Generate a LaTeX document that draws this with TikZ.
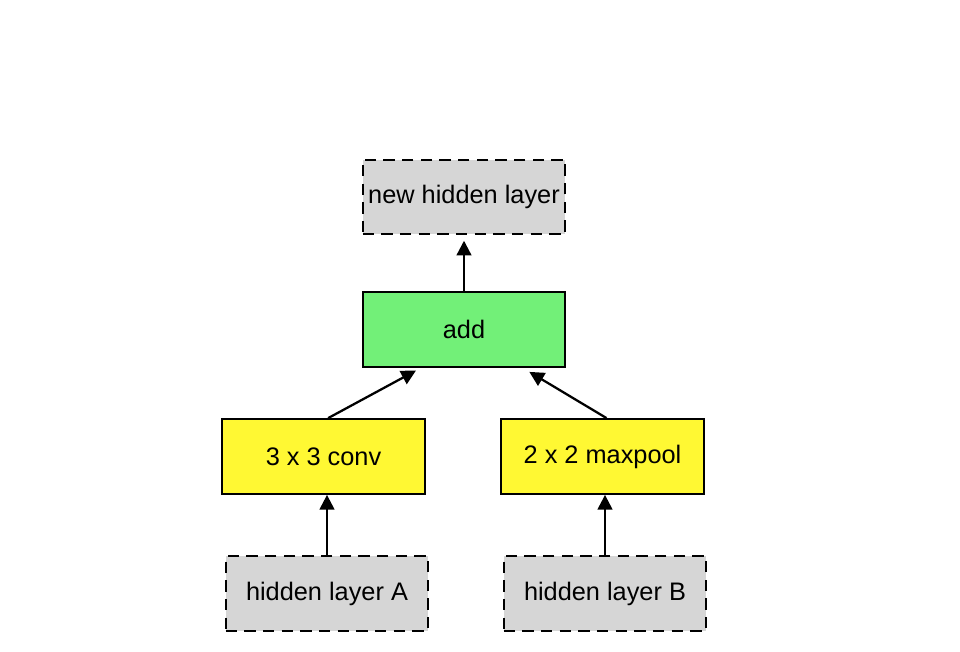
\documentclass[tikz,border=0pt]{standalone}
\usepackage{fontspec}
\setmainfont{Liberation Sans}
\usetikzlibrary{arrows.meta}

\begin{document}
\begin{tikzpicture}[x=0.75pt, y=-0.75pt, font=\fontsize{19}{22}\selectfont]
% Colors
\definecolor{layergray}{RGB}{214,214,214}
\definecolor{addgreen}{RGB}{114,240,120}
\definecolor{opyellow}{RGB}{255,248,51}

\tikzset{
  box/.style={draw=black, line width=1.6pt, minimum width=152pt, minimum height=56pt, inner sep=0pt},
  layerbox/.style={box, fill=layergray, dash pattern=on 8.5pt off 5.5pt},
  opbox/.style={box, fill=opyellow},
  addbox/.style={box, fill=addgreen},
  flow/.style={-{Triangle[length=11pt, width=11pt]}, line width=1.7pt}
}

\useasboundingbox (0,0) rectangle (960,652);

% Layers and operations
\node[layerbox] (newhidden) at (464,197) {new hidden layer};
\node[addbox] (add) at (464,329.5) {add};
\node[opbox] (conv) at (323.5,456.5) {3 x 3 conv};
\node[opbox] (maxpool) at (602.5,456.5) {2 x 2 maxpool};
\node[layerbox] (hiddenA) at (327,593.5) {hidden layer A};
\node[layerbox] (hiddenB) at (605,593.5) {hidden layer B};

% Connections
\draw[flow] (hiddenA.north) -- (hiddenA.north |- conv.south);
\draw[flow] (hiddenB.north) -- (hiddenB.north |- maxpool.south);
\draw[flow] ([xshift=3.5pt]conv.north) -- ([xshift=-36pt, yshift=-2pt]add.south);
\draw[flow] ([xshift=3pt]maxpool.north) -- ([xshift=49pt, yshift=-3pt]add.south);
\draw[flow] (add.north) -- ([yshift=-4pt]newhidden.south);

\end{tikzpicture}
\end{document}
